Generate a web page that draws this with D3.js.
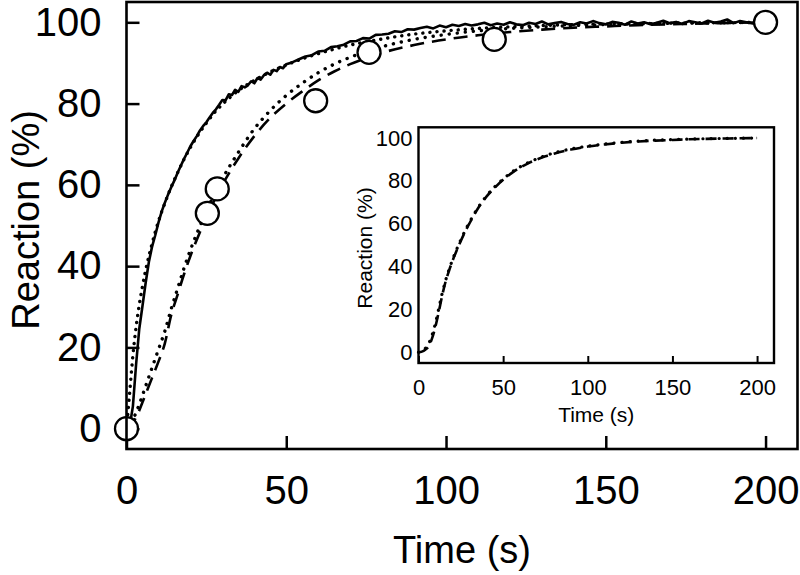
<!DOCTYPE html>
<html><head><meta charset="utf-8">
<script src="https://cdn.jsdelivr.net/npm/d3@7/dist/d3.min.js"></script>
<style>
html,body{margin:0;padding:0;background:#fff;}
text{font-family:"Liberation Sans",Arial,sans-serif;fill:#000;}
</style></head>
<body>
<svg id="chart" width="800" height="575"></svg>
<script>
// ---------- DATA ----------
const xTicks = [0, 50, 100, 150, 200];
const yTicks = [0, 20, 40, 60, 80, 100];

// measured trace (noisy solid line)
const traceTime = [0,1,2,3,4,5,6,7,8,9,10,11,12,13,14,15,16,17,18,19,20,21,22,23,24,25,26,27,28,29,30,31,32,33,34,35,36,37,38,39,40,41,42,43,44,45,46,47,48,49,50,
  52,54,56,58,60,62,64,66,68,70,72,74,76,78,80,82,84,86,88,90,92,94,96,98,100,102,104,106,108,110,112,114,116,118,120,122,124,126,128,130,132,134,136,138,140,142,144,146,148,150,152,154,156,158,160,162,164,166,168,170,172,174,176,178,180,182,184,186,188,190,192,194,196,198,200];
const traceValue = [0,0.6,5.5,15.8,24.6,30.2,35.9,41.0,44.8,47.6,50.7,53.4,55.6,57.6,59.4,61.1,63.0,64.7,66.4,67.9,69.5,70.8,72.0,73.4,74.5,75.4,76.6,77.7,78.6,79.7,80.9,80.8,82.3,82.1,83.4,82.9,84.3,84.0,84.5,85.5,85.0,86.3,85.9,87.0,87.6,87.1,88.3,88.0,89.0,88.7,89.7,
  90.2,90.9,91.6,91.9,92.8,93.0,93.9,94.1,94.5,95.3,95.4,96.1,96.0,96.9,97.0,97.2,97.8,97.6,98.3,98.2,98.6,98.9,98.5,99.2,98.8,99.4,99.1,99.6,99.2,99.5,99.9,99.3,99.7,99.4,100.0,99.5,99.3,99.9,99.6,100.2,99.5,99.8,100.1,99.6,99.4,100.0,99.7,100.3,99.8,99.5,100.1,99.9,99.4,100.2,99.7,100.0,99.5,99.9,100.4,99.8,100.1,99.6,100.3,100.0,99.7,100.4,99.9,100.2,100.7,99.8,100.3,100.0,99.7,100.2,100];

// fitted curves (main panel)
const fitTime = [0,1,2,3,4,5,6,8,10,12,14,16,18,20,22,25,28,30,35,40,45,50,55,60,65,70,75,80,90,100,110,120,130,140,150,160,170,180,190,200];
const fastFit = [0,9,18,25,30.5,35,39,45.5,51,55.5,59.5,63,66.3,69.2,71.8,75.2,78.2,79.8,83.2,85.7,87.8,89.5,91,92.3,93.4,94.4,95.2,95.9,97.1,97.9,98.5,98.9,99.2,99.45,99.6,99.7,99.8,99.87,99.93,100];
const slowFitDashed = [0,0.5,1.5,2.8,4.5,6.5,8.5,12.5,16.5,21,28,33,38,42.5,46.5,52,57,60,66.5,72,76.5,80,83,85.7,87.9,89.7,91.2,92.5,94.4,95.8,96.8,97.6,98.2,98.7,99.0,99.3,99.5,99.7,99.85,100];
const slowFitDotted = [0,0.8,2.2,4,6,8.2,10.5,15,19.5,24,29.5,34.5,39.5,44,48,53.5,58.5,61.5,68,73.8,78.3,82,85,87.6,89.7,91.4,92.8,94,95.8,97,97.9,98.5,98.9,99.2,99.45,99.6,99.75,99.85,99.93,100];

// discrete data points (open circles)
const pointTime = [0, 25.3, 28.4, 59.2, 75.9, 115.1, 200];
const pointValue = [0, 53, 59, 80.7, 92.6, 95.8, 100];

// inset curves
const insetTime = [0,2,4,6,8,10,12,14,16,18,20,22,25,28,30,35,40,45,50,55,60,65,70,75,80,90,100,110,120,130,140,150,160,170,180,190,200];
const insetDashed = [0,0.3,1.2,2.8,6.5,12,19,26.5,33,38,42.5,46.5,52,57,60,67,72.5,76.8,80.5,83.6,86.2,88.3,90,91.5,92.7,94.6,96,97,97.8,98.4,98.8,99.1,99.4,99.6,99.75,99.9,100];
const insetDotted = [0,0.5,1.8,4,8,13.5,20.5,27.5,33.5,38.5,43,47,52.5,57.5,60.5,67.3,72.8,77.2,80.8,84,86.5,88.6,90.3,91.8,93,94.9,96.2,97.2,98,98.6,99,99.3,99.5,99.7,99.8,99.9,100];

const xLabel = "Time (s)";
const yLabel = "Reaction (%)";

// ---------- DRAW ----------
const svg = d3.select("#chart");

function panel(opts) {
  const x = d3.scaleLinear().domain([0, 210]).range([opts.left, opts.right]);
  const y = d3.scaleLinear().domain([-5, 105]).range([opts.bottom, opts.top]);
  const g = svg.append("g");
  g.append("rect").attr("x", opts.left).attr("y", opts.top)
    .attr("width", opts.right - opts.left).attr("height", opts.bottom - opts.top)
    .attr("fill", "#fff").attr("stroke", "none");

  const xa = g.append("g").attr("transform", `translate(0,${opts.bottom})`)
    .call(d3.axisBottom(x).tickValues(xTicks).tickSizeInner(-opts.tick).tickSizeOuter(0).tickPadding(opts.xPad));
  const ya = g.append("g").attr("transform", `translate(${opts.left},0)`)
    .call(d3.axisLeft(y).tickValues(yTicks).tickSizeInner(opts.yTick ? -opts.tick : 0).tickSizeOuter(0).tickPadding(opts.yPad));
  [xa, ya].forEach(a => {
    a.select(".domain").remove();
    a.selectAll("line").attr("stroke", "#000").attr("stroke-width", opts.sw);
    a.selectAll("text").attr("font-size", opts.fs).attr("fill", "#000")
      .style("font-family", '"Liberation Sans",Arial,sans-serif');
  });
  if (!opts.yTick) ya.selectAll("line").remove();

  g.append("text").attr("x", (opts.left + opts.right) / 2).attr("y", opts.xTitleY)
    .attr("text-anchor", "middle").attr("font-size", opts.tfs).text(xLabel);
  g.append("text").attr("transform", `translate(${opts.yTitleX},${opts.yTitleCY}) rotate(-90)`)
    .attr("text-anchor", "middle").attr("font-size", opts.tfs).text(yLabel);
  return {g, x, y};
}

function drawLine(p, ts, vs, style) {
  const line = d3.line().x((d, i) => p.x(ts[i])).y(d => p.y(d)).curve(style.curve || d3.curveLinear);
  p.g.append("path").datum(vs).attr("d", line).attr("fill", "none")
    .attr("stroke", "#000").attr("stroke-width", style.w)
    .attr("stroke-dasharray", style.dash || null)
    .attr("stroke-linecap", style.cap || "butt")
    .attr("stroke-linejoin", "round");
}

// main panel
const main = panel({left: 126.5, right: 797.5, top: 2, bottom: 449, tick: 13, yTick: true,
  sw: 2.5, fs: 40, tfs: 38, xPad: 27, yPad: 25, xTitleY: 563, yTitleX: 39, yTitleCY: 220});

drawLine(main, fitTime, slowFitDashed, {w: 2.6, dash: "14,8", curve: d3.curveMonotoneX});
drawLine(main, fitTime, slowFitDotted, {w: 3.4, dash: "0.1,8", cap: "round", curve: d3.curveMonotoneX});
drawLine(main, fitTime, fastFit, {w: 3.4, dash: "0.1,7", cap: "round", curve: d3.curveMonotoneX});
drawLine(main, traceTime, traceValue, {w: 2.6});

main.g.selectAll("circle.pt").data(pointTime).enter().append("circle")
  .attr("cx", d => main.x(d)).attr("cy", (d, i) => main.y(pointValue[i]))
  .attr("r", 11.5).attr("fill", "#fff").attr("stroke", "#000").attr("stroke-width", 2.3);

main.g.append("rect").attr("x", 126.5).attr("y", 2).attr("width", 797.5 - 126.5).attr("height", 447)
  .attr("fill", "none").attr("stroke", "#000").attr("stroke-width", 2.6);

// inset panel
const inset = panel({left: 418.5, right: 774, top: 127.3, bottom: 363, tick: 7, yTick: false,
  sw: 2, fs: 22, tfs: 21, xPad: 16, yPad: 6, xTitleY: 422, yTitleX: 372, yTitleCY: 248});
drawLine(inset, insetTime, insetDashed, {w: 2.6, dash: "11,6", curve: d3.curveMonotoneX});
drawLine(inset, insetTime, insetDotted, {w: 3.2, dash: "0.1,8", cap: "round", curve: d3.curveMonotoneX});
inset.g.append("rect").attr("x", 418.5).attr("y", 127.3).attr("width", 774 - 418.5).attr("height", 363 - 127.3)
  .attr("fill", "none").attr("stroke", "#000").attr("stroke-width", 2.4);
</script>
</body></html>
